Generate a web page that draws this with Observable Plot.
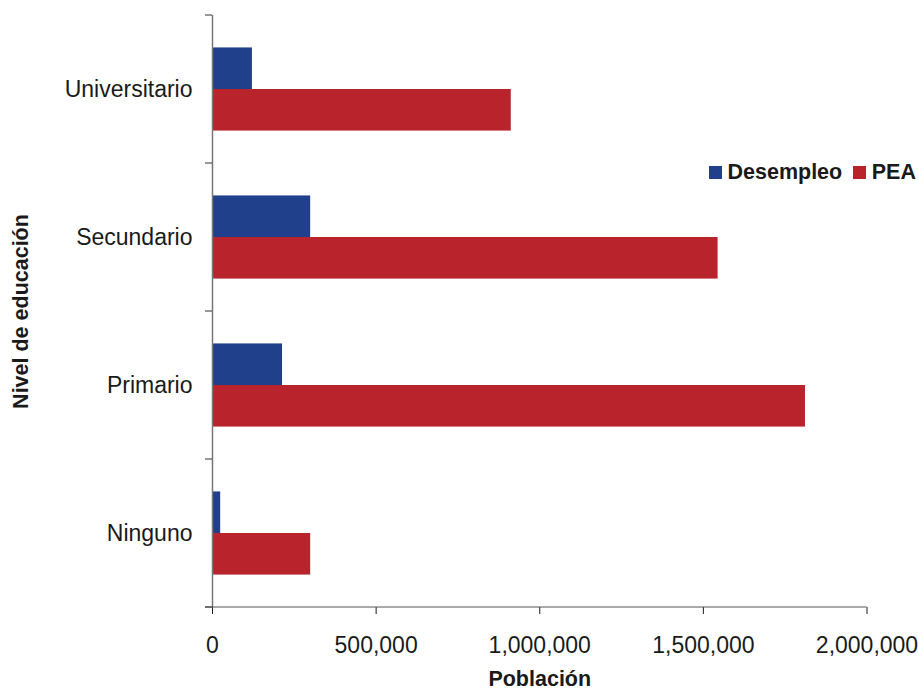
<!DOCTYPE html>
<html><head><meta charset="utf-8">
<script src="https://cdn.jsdelivr.net/npm/d3@7"></script>
<script src="https://cdn.jsdelivr.net/npm/@observablehq/plot@0.6"></script>
<style>
body{margin:0;background:#fff;}
#wrap{position:relative;width:918px;height:692px;font-family:"Liberation Sans",Arial,sans-serif;}
#legend{position:absolute;left:709px;top:160px;display:flex;align-items:center;font-weight:bold;font-size:21.5px;color:#1a1a1a;}
#legend .sw{display:inline-block;width:12.5px;height:12.5px;margin-right:6px;}
#legend .it{display:flex;align-items:center;margin-right:11px;}
svg [aria-label="x-axis label"], svg [aria-label="fy-axis label"]{font-weight:bold;font-size:21.5px;}
</style></head><body><div id="wrap"></div>
<script>
const categories = ["Universitario", "Secundario", "Primario", "Ninguno"];
const series = ["Desempleo", "PEA"];
const desempleo = [122000, 300000, 214000, 25000];
const pea = [913000, 1545000, 1812000, 300000];
const colors = ["#21408b", "#b9232b"];
const xTicks = [0, 500000, 1000000, 1500000, 2000000];
const xLabel = "Población";
const yLabel = "Nivel de educación";

const data = categories.flatMap((c, i) => [
  {cat: c, serie: series[0], value: desempleo[i]},
  {cat: c, serie: series[1], value: pea[i]}
]);

const plot = Plot.plot({
  width: 918, height: 692,
  marginLeft: 212, marginRight: 51.5, marginTop: 15, marginBottom: 85,
  style: {fontFamily: '"Liberation Sans", Arial, sans-serif', fontSize: "23px", color: "#1a1a1a", background: "#fff"},
  x: {domain: [0, 2000000], ticks: xTicks, tickFormat: d3.format(","), tickSize: 7, tickPadding: 22,
      label: xLabel, labelArrow: false, labelAnchor: "center", labelOffset: 78},
  y: {domain: series, paddingInner: 0, paddingOuter: 0.78, round: false, axis: null},
  fy: {domain: categories, padding: 0, axis: "left", tickSize: 0, tickPadding: 20,
       label: yLabel, labelArrow: false, labelAnchor: "center", labelOffset: 200},
  color: {domain: series, range: colors},
  marks: [
    Plot.barX(data, {x: "value", y: "serie", fy: "cat", fill: "serie"}),
    Plot.ruleX([0], {stroke: "#777", strokeWidth: 1.5})
  ]
});

// axis lines and band boundary ticks from the plot's own scales
const sx = plot.scale("x"), sfy = plot.scale("fy");
const svg = d3.select(plot.tagName.toLowerCase() === "svg" ? plot : plot.querySelector("svg"));
const x0 = sx.apply(0), x1 = sx.apply(2000000);
const bounds = categories.map(c => sfy.apply(c));
bounds.push(sfy.apply(categories[categories.length - 1]) + sfy.bandwidth);
const g = svg.append("g");
g.append("line").attr("x1", x0 - 7).attr("x2", x1).attr("y1", bounds[bounds.length - 1]).attr("y2", bounds[bounds.length - 1]).attr("stroke", "#555");
g.selectAll(".bt").data(bounds).join("line").attr("x1", x0 - 7).attr("x2", x0).attr("y1", d => d).attr("y2", d => d).attr("stroke", "#333");

const wrap = document.getElementById("wrap");
wrap.appendChild(plot);
const legend = document.createElement("div");
legend.id = "legend";
series.forEach((s, i) => {
  const it = document.createElement("span"); it.className = "it";
  const sw = document.createElement("span"); sw.className = "sw"; sw.style.background = colors[i];
  it.appendChild(sw); it.appendChild(document.createTextNode(s));
  legend.appendChild(it);
});
wrap.appendChild(legend);
</script></body></html>
